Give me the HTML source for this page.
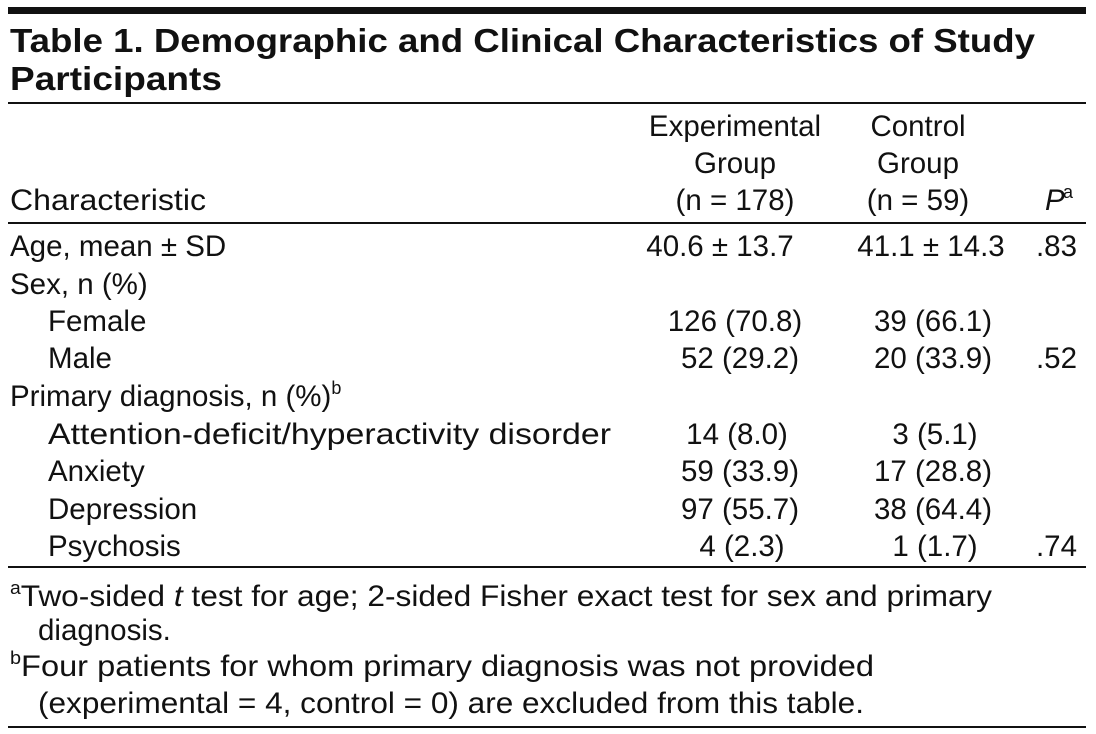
<!DOCTYPE html>
<html><head><meta charset="utf-8"><style>
html,body{margin:0;padding:0;background:#fff;}
svg{display:block;}
text{font-family:"Liberation Sans",Arial,sans-serif;fill:#111;font-size:29.5px;}
.t{font-weight:bold;font-size:33px;}
.m{text-anchor:middle;}
.r{text-anchor:end;}
.s{font-size:18px;}
</style></head><body>
<svg width="1096" height="734" viewBox="0 0 1096 734" xmlns="http://www.w3.org/2000/svg">
<rect x="8" y="7" width="1078" height="7" fill="#111"/>
<rect x="8" y="102" width="1078" height="2" fill="#111"/>
<rect x="8" y="222" width="1078" height="2" fill="#111"/>
<rect x="8" y="566" width="1078" height="2" fill="#111"/>
<rect x="8" y="726" width="1078" height="2" fill="#111"/>

<text class="t" x="10" y="52" textLength="1025" lengthAdjust="spacingAndGlyphs">Table 1. Demographic and Clinical Characteristics of Study</text>
<text class="t" x="10" y="90" textLength="212" lengthAdjust="spacingAndGlyphs">Participants</text>

<text class="m" x="735" y="136">Experimental</text>
<text class="m" x="735" y="173">Group</text>
<text class="m" x="735" y="210">(n = 178)</text>
<text class="m" x="918" y="136">Control</text>
<text class="m" x="918" y="173">Group</text>
<text class="m" x="918" y="210">(n = 59)</text>
<text x="10" y="210" textLength="196" lengthAdjust="spacingAndGlyphs">Characteristic</text>
<text x="1045" y="210" font-style="italic">P</text>
<text class="s" x="1063" y="198">a</text>

<text x="10" y="256">Age, mean ± SD</text>
<text class="m" x="720" y="256">40.6 ± 13.7</text>
<text class="m" x="931" y="256">41.1 ± 14.3</text>
<text class="r" x="1077" y="256">.83</text>

<text x="10" y="294">Sex, n (%)</text>
<text x="48" y="331">Female</text>
<text class="m" x="735" y="331">126 (70.8)</text>
<text class="m" x="933" y="331">39 (66.1)</text>
<text x="48" y="368">Male</text>
<text class="m" x="740" y="368">52 (29.2)</text>
<text class="m" x="933" y="368">20 (33.9)</text>
<text class="r" x="1077" y="368">.52</text>

<text x="10" y="406">Primary diagnosis, n (%)<tspan class="s" dy="-12">b</tspan></text>
<text x="48" y="444" textLength="563" lengthAdjust="spacingAndGlyphs">Attention-deficit/hyperactivity disorder</text>
<text class="m" x="737" y="444">14 (8.0)</text>
<text class="m" x="935" y="444">3 (5.1)</text>
<text x="48" y="481">Anxiety</text>
<text class="m" x="740" y="481">59 (33.9)</text>
<text class="m" x="933" y="481">17 (28.8)</text>
<text x="48" y="519">Depression</text>
<text class="m" x="740" y="519">97 (55.7)</text>
<text class="m" x="933" y="519">38 (64.4)</text>
<text x="48" y="556">Psychosis</text>
<text class="m" x="742" y="556">4 (2.3)</text>
<text class="m" x="935" y="556">1 (1.7)</text>
<text class="r" x="1077" y="556">.74</text>

<text x="10" y="606" textLength="982" lengthAdjust="spacingAndGlyphs"><tspan class="s" dy="-12">a</tspan><tspan dy="12">Two-sided </tspan><tspan font-style="italic">t</tspan> test for age; 2-sided Fisher exact test for sex and primary</text>
<text x="38" y="640">diagnosis.</text>
<text x="10" y="676" textLength="864" lengthAdjust="spacingAndGlyphs"><tspan class="s" dy="-12">b</tspan><tspan dy="12">Four patients for whom primary diagnosis was not provided</tspan></text>
<text x="38" y="713" textLength="826" lengthAdjust="spacingAndGlyphs">(experimental = 4, control = 0) are excluded from this table.</text>
</svg>
</body></html>
